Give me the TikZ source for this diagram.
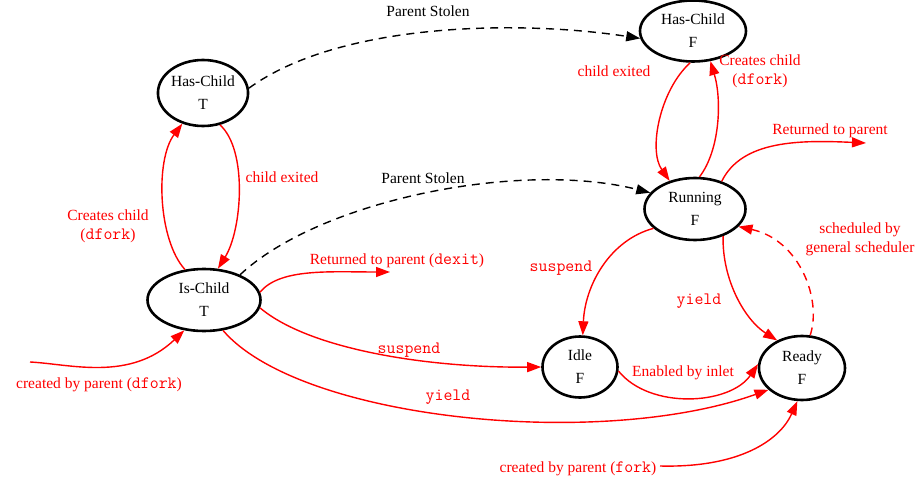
\documentclass[tikz,border=0pt]{standalone}
\usepackage{fontspec}
\setmainfont{Liberation Serif}
\setmonofont{Latin Modern Mono}[Scale=1.12]
\usetikzlibrary{arrows.meta,shapes.geometric}

\begin{document}
\begin{tikzpicture}[x=1pt,y=-1pt,
  state/.style={draw,ellipse,line width=2.6pt,inner sep=0pt,align=center,
    font=\fontsize{15.5}{23}\selectfont},
  tip/.style={-{Triangle[length=14pt,width=10pt]}},
  redline/.style={red,line width=1.4pt,tip},
  stolen/.style={black,line width=1.4pt,dash pattern=on 8pt off 6pt,tip},
  resched/.style={red,line width=1.4pt,dash pattern=on 8pt off 6pt,tip},
  lab/.style={red,align=center,font=\fontsize{15.5}{19}\selectfont},
  blab/.style={black,align=center,font=\fontsize{15.5}{19}\selectfont}]

\useasboundingbox (0,0) rectangle (922,487);

% states
\node[state,minimum width=88pt,minimum height=66pt] (hct) at (203,93) {Has-Child\\T};
\node[state,minimum width=113pt,minimum height=62pt] (ic) at (204,300) {Is-Child\\T};
\node[state,minimum width=106pt,minimum height=61pt] (hcf) at (693,31) {Has-Child\\F};
\node[state,minimum width=101pt,minimum height=62pt] (rn) at (695,209) {Running\\F};
\node[state,minimum width=75pt,minimum height=61pt] (idle) at (580,367) {Idle\\F};
\node[state,minimum width=86pt,minimum height=64pt] (rdy) at (802,368) {Ready\\F};

% free ends
\coordinate (icret) at (390,272);
\coordinate (rnret) at (866,143);
\coordinate (dforkin) at (30,362);
\coordinate (forkin) at (660,466);

% parent stolen transitions
\draw[stolen] (hct.6) .. controls (340,22) and (520,20) .. (hcf.188);
\draw[stolen] (ic.35) .. controls (320,200) and (520,160) .. (rn.160);

% child side
\draw[redline] (hct.-62) .. controls (248,150) and (242,230) .. (ic.66);
\draw[redline] (ic.122) .. controls (158,240) and (155,160) .. (hct.-124);
\draw[redline] (ic.8) .. controls (280,268) and (330,272) .. (icret);
\draw[redline] (ic.-8) .. controls (310,350) and (430,368) .. (idle.180);
\draw[redline] (ic.-58) .. controls (300,420) and (600,450) .. (rdy.213);
\draw[redline] (dforkin) .. controls (70,364) and (130,382) .. (ic.-123);

% parent side
\draw[redline] (hcf.-95) .. controls (660,90) and (648,150) .. (rn.132);
\draw[redline] (rn.82) .. controls (720,150) and (722,100) .. (hcf.-60);
\draw[redline] (rn.46) .. controls (742,140) and (800,140) .. (rnret);
\draw[redline] (rn.205) .. controls (610,240) and (585,285) .. (idle.85);
\draw[redline] (rn.-44) .. controls (722,280) and (745,320) .. (rdy.132);
\draw[resched] (rdy.76) .. controls (822,300) and (800,240) .. (rn.-22);
\draw[redline] (idle.-6) .. controls (650,410) and (730,405) .. (rdy.175);
\draw[redline] (forkin) .. controls (740,468) and (780,440) .. (rdy.-98);

% labels
\node[blab] (lps1) at (428,11) {Parent Stolen};
\node[blab] (lps2) at (423,178) {Parent Stolen};
\node[lab] (lce1) at (282,177) {child exited};
\node[lab] (lcc1) at (108,226) {Creates child\\(\texttt{dfork})};
\node[lab] (lret1) at (397,261) {Returned to parent (\texttt{dexit})};
\node[lab] (lsus1) at (409,350) {\texttt{suspend}};
\node[lab] (lyld1) at (448,397) {\texttt{yield}};
\node[lab] (lcp1) at (99,385) {created by parent (\texttt{dfork})};
\node[lab] (lce2) at (614,71) {child exited};
\node[lab] (lcc2) at (760,71) {Creates child\\(\texttt{dfork})};
\node[lab] (lret2) at (830,131) {Returned to parent};
\node[lab] (lsus2) at (561,268) {\texttt{suspend}};
\node[lab] (lyld2) at (699,301) {\texttt{yield}};
\node[lab] (lsch) at (860,239) {scheduled by\\general scheduler};
\node[lab] (linl) at (683,373) {Enabled by inlet};
\node[lab] (lcp2) at (578,469) {created by parent (\texttt{fork})};

\end{tikzpicture}
\end{document}
